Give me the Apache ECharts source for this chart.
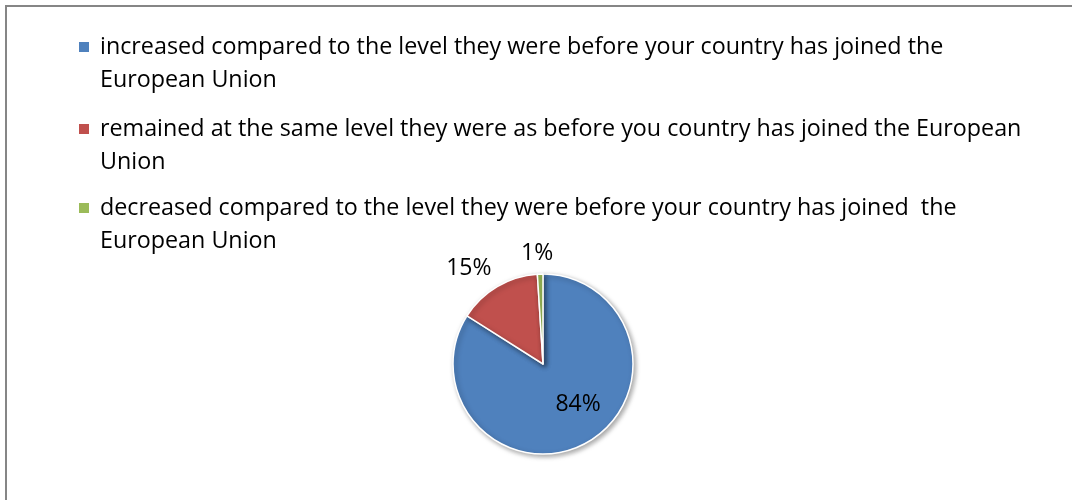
<!DOCTYPE html>
<html>
<head>
<meta charset="utf-8">
<script src="https://cdn.jsdelivr.net/npm/echarts@6/dist/echarts.min.js"></script>
<style>
  html, body { margin: 0; padding: 0; background: #ffffff; }
  #chart { width: 1072px; height: 500px; }
</style>
</head>
<body>
<div id="chart"></div>
<script>
var categories = [
  'increased compared to the level they were before your country has joined the European Union',
  'remained at the same level they were as before you country has joined the European Union',
  'decreased compared to the level they were before your country has joined  the European Union'
];
var values = [84, 15, 1];
var colors = ['#4F81BD', '#C0504D', '#9BBB59'];

var FONT = 'Open Sans';
var FS = 23.3;
var LH = 33;
var legendFirstLine = [47, 129, 208];
var legendWrapWidth = [900, 960, 900];

var chart = echarts.init(document.getElementById('chart'), null, { renderer: 'canvas' });

// icon: 10x10 square aligned with the first text line, blank space to the right
var sqTop = LH / 2 - 5;
var iconPath = 'path://M0,0 M0,' + sqTop + ' L10,' + sqTop + ' L10,' + (sqTop + 10) +
  ' L0,' + (sqTop + 10) + ' Z M16,' + (LH * 2);

var legends = categories.map(function (name, i) {
  return {
    data: [name],
    left: 79,
    top: legendFirstLine[i] - LH / 2,
    padding: 0,
    orient: 'vertical',
    icon: iconPath,
    itemWidth: 16,
    itemHeight: LH * 2,
    itemGap: 0,
    selectedMode: false,
    itemStyle: { borderWidth: 0, shadowBlur: 0, shadowOffsetX: 0, shadowOffsetY: 0 },
    textStyle: {
      fontFamily: FONT,
      fontSize: FS,
      lineHeight: LH,
      color: '#000000',
      width: legendWrapWidth[i],
      overflow: 'break'
    }
  };
});

var labelShift = [[12, -2], [11, -31], [18, -21]];

chart.setOption({
  animation: false,
  color: colors,
  graphic: [{
    type: 'rect',
    shape: { x: 6, y: 6, width: 1100, height: 520 },
    style: { fill: 'none', stroke: '#868686', lineWidth: 2 },
    silent: true
  }],
  legend: legends,
  series: [{
    type: 'pie',
    center: [543, 364],
    radius: 90,
    startAngle: 90,
    clockwise: true,
    data: categories.map(function (name, i) {
      return {
        name: name,
        value: values[i],
        label: { position: i === 0 ? 'inside' : 'outside' }
      };
    }),
    itemStyle: {
      borderColor: '#ffffff',
      borderWidth: 1.5,
      shadowBlur: 5,
      shadowOffsetX: 2,
      shadowOffsetY: 2,
      shadowColor: 'rgba(0,0,0,0.35)'
    },
    label: {
      show: true,
      formatter: '{d}%',
      fontFamily: FONT,
      fontSize: 23,
      color: '#000000',
      distanceToLabelLine: 5
    },
    labelLine: { show: false, length: 0, length2: 0 },
    labelLayout: function (p) {
      var s = labelShift[p.dataIndex];
      return { dx: s[0], dy: s[1] };
    },
    emphasis: { disabled: true }
  }]
});
</script>
</body>
</html>
